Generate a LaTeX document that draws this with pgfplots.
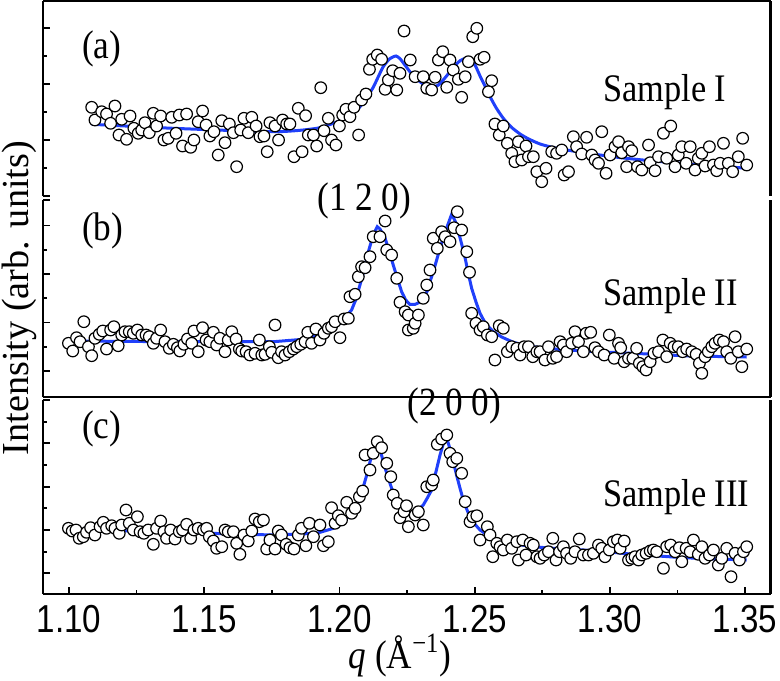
\documentclass[border=0pt]{standalone}
\usepackage{graphicx}
\usepackage{fontspec}
\setmainfont{Liberation Serif}
\newfontfamily\serifn[FakeStretch=0.88]{Liberation Serif}
\newfontfamily\sansn[FakeStretch=0.85]{Liberation Sans}
\usepackage{pgfplots}
\pgfplotsset{compat=1.18}
\definecolor{fitblue}{RGB}{32,64,250}
\pgfplotsset{
  panel/.style={
    scale only axis, width=363.75pt,
    xmin=1.0904, xmax=1.3594,
    axis y line*=box,
    axis line style={-, line width=1.1pt},
    every outer x axis line/.append style={-},
    every outer y axis line/.append style={-},
    tick style={black, line width=0.9pt},
    major tick length=3.4pt, minor tick length=2.2pt,
    tick align=inside,
    ytick pos=left, yticklabels={},
    clip=false,
  },
  pts/.style={only marks, mark=*, mark size=2.9pt,
    mark options={draw=black, fill=white, line width=0.6pt}},
  fit/.style={color=fitblue, line width=1.5pt, no marks},
}
\begin{document}
\begin{tikzpicture}
\path[use as bounding box] (0,0) rectangle (390pt,-340pt);
% ---------- panel (a)
\begin{axis}[panel, at={(21.5pt,-98pt)}, anchor=south west, height=97.5pt,
  axis x line*=top, xtick=\empty,
  ymin=0, ymax=195, ytick={0,56,112,168}, minor ytick={28,84,140}]
\addplot[pts] coordinates {(1.1084,88.7)(1.1096,76)(1.1121,84.3)(1.1139,82)(1.1154,72.7)(1.1170,90)(1.1185,61)(1.1195,76.7)(1.1213,56.7)(1.1226,80)(1.1240,67.7)(1.1256,62.7)(1.1269,66)(1.1281,73.3)(1.1297,63.3)(1.1312,82.7)(1.1324,70)(1.1339,80)(1.1351,56)(1.1367,57.7)(1.1380,78.7)(1.1396,62.7)(1.1408,81)(1.1420,50)(1.1435,82)(1.1450,48.7)(1.1462,56)(1.1478,74.3)(1.1494,85)(1.1507,71)(1.1521,60)(1.1536,64.3)(1.1552,41)(1.1565,75.3)(1.1577,53.3)(1.1593,72)(1.1608,63.3)(1.1620,29.3)(1.1635,66)(1.1647,77.7)(1.1663,63.3)(1.1676,78.7)(1.1692,70)(1.1706,59.3)(1.1721,60)(1.1733,44.3)(1.1743,73.3)(1.1762,70)(1.1775,56)(1.1790,76)(1.1805,72)(1.1817,72)(1.1832,39.3)(1.1848,87.7)(1.1862,44.3)(1.1875,80.3)(1.1885,61)(1.1904,61)(1.1916,50)(1.1931,108.3)(1.1943,65.3)(1.1959,77.7)(1.1971,56)(1.1987,51)(1.2000,70)(1.2012,81)(1.2024,86.7)(1.2039,79.3)(1.2054,88.7)(1.2071,61)(1.2082,96)(1.2098,102)(1.2111,126.7)(1.2123,136.7)(1.2140,141)(1.2156,136.7)(1.2169,106.7)(1.2181,116)(1.2197,125.3)(1.2212,106)(1.2224,122.7)(1.2239,165)(1.2262,136)(1.2280,119.3)(1.2310,119.3)(1.2323,107.7)(1.2341,106)(1.2354,118.7)(1.2366,136)(1.2382,144.3)(1.2397,108.7)(1.2409,136)(1.2421,126)(1.2440,116.7)(1.2452,98.7)(1.2465,119.3)(1.2477,134.3)(1.2493,159.3)(1.2508,167.7)(1.2520,136.7)(1.2535,138.7)(1.2551,104.3)(1.2563,115.3)(1.2575,72)(1.2591,61)(1.2606,70)(1.2621,52.7)(1.2637,42.7)(1.2649,34.3)(1.2662,54.3)(1.2674,36)(1.2690,50)(1.2699,39.3)(1.2717,39.3)(1.2730,24.3)(1.2748,14.3)(1.2764,27.7)(1.2785,44.3)(1.2803,42.7)(1.2822,46)(1.2831,21)(1.2847,24.3)(1.2865,59.3)(1.2877,49.3)(1.2896,42)(1.2914,58.7)(1.2933,41)(1.2945,36)(1.2958,32.7)(1.2970,64.3)(1.2986,22.7)(1.3001,41)(1.3019,49.3)(1.3032,54.3)(1.3044,43.3)(1.3062,29.3)(1.3069,49.3)(1.3081,45.3)(1.3102,29.3)(1.3118,26)(1.3143,51)(1.3149,33.3)(1.3167,25.3)(1.3180,39.3)(1.3198,62.7)(1.3210,37.7)(1.3225,70)(1.3241,29.3)(1.3253,41)(1.3266,49.3)(1.3282,32.7)(1.3297,49.3)(1.3315,26)(1.3327,37.7)(1.3340,42.7)(1.3352,30)(1.3368,49.3)(1.3383,31)(1.3395,25.3)(1.3408,32.7)(1.3420,52.7)(1.3438,32.7)(1.3454,24.3)(1.3475,39.3)(1.3491,57.7)(1.3506,31)};
\addplot[fit, smooth, tension=0.4] coordinates {(1.1084,71.7)(1.1386,67.7)(1.1756,64.3)(1.1916,67.7)(1.2002,75.3)(1.2050,83)(1.2076,89.3)(1.2100,98)(1.2125,108.7)(1.2145,120)(1.2162,129.3)(1.2185,137)(1.2209,140)(1.2225,137)(1.2245,130)(1.2270,121)(1.2298,114.3)(1.2320,110)(1.2340,108.7)(1.2366,111)(1.2390,118)(1.2409,124.3)(1.2430,131)(1.2446,135.3)(1.2471,138)(1.2489,136)(1.2505,129)(1.2520,120)(1.2540,109)(1.2557,99.3)(1.2580,88)(1.2606,77.7)(1.2635,69)(1.2668,62)(1.2700,57)(1.2742,52)(1.2790,48.5)(1.2840,46)(1.2900,43.5)(1.2964,41)(1.3050,38)(1.3149,35.3)(1.3250,33)(1.3334,31)(1.3420,29.5)(1.3506,27.7)};
\end{axis}
% ---------- panel (b)
\begin{axis}[panel, at={(21.5pt,-198.5pt)}, anchor=south west, height=98.5pt,
  axis x line*=none, xtick=\empty,
  ymin=0, ymax=197, ytick={0,26,74.5,123,171.5,197}, minor ytick={50,99,147}]
\addplot[pts] coordinates {(1.0998,53.7)(1.1014,46)(1.1028,59.3)(1.1041,55.3)(1.1055,75.3)(1.1072,50.3)(1.1084,41.3)(1.1096,58.7)(1.1112,62.7)(1.1125,66)(1.1139,48)(1.1154,67)(1.1166,70.3)(1.1182,51.3)(1.1195,62)(1.1207,65.3)(1.1223,65.3)(1.1238,63.7)(1.1253,67)(1.1269,62)(1.1285,62)(1.1297,60.3)(1.1312,53.7)(1.1324,58.7)(1.1339,67)(1.1355,55.3)(1.1371,48.7)(1.1386,52.7)(1.1401,49.3)(1.1410,46)(1.1425,52.7)(1.1438,58)(1.1454,53.7)(1.1462,66)(1.1478,45.3)(1.1494,69.3)(1.1507,57)(1.1521,55.3)(1.1534,64.7)(1.1546,52)(1.1558,58.7)(1.1577,45.3)(1.1589,57)(1.1602,65.3)(1.1618,58)(1.1630,48)(1.1639,46)(1.1655,45.3)(1.1669,42)(1.1688,43.7)(1.1704,57)(1.1713,42)(1.1725,42.7)(1.1741,50.3)(1.1750,44.7)(1.1762,72)(1.1774,39.3)(1.1786,45.3)(1.1799,42)(1.1815,45.3)(1.1830,48)(1.1842,50.3)(1.1857,52.7)(1.1873,55.3)(1.1883,64.7)(1.1897,53.7)(1.1913,68)(1.1928,57)(1.1943,63.7)(1.1959,68.7)(1.1971,70.3)(1.1984,75.3)(1.2002,59.3)(1.2017,78)(1.2033,78.7)(1.2039,100.3)(1.2058,102.7)(1.2070,120.3)(1.2082,130.3)(1.2095,129.3)(1.2113,140.3)(1.2125,160.3)(1.2150,160.3)(1.2169,176)(1.2175,147)(1.2193,142)(1.2212,118.7)(1.2224,94.7)(1.2243,85.3)(1.2255,67)(1.2255,82)(1.2273,68.7)(1.2280,73.7)(1.2292,82)(1.2310,98.7)(1.2323,112)(1.2335,127)(1.2347,158.7)(1.2362,148.7)(1.2378,165.3)(1.2391,160.3)(1.2409,155.3)(1.2424,169.3)(1.2436,185.3)(1.2452,167)(1.2471,145.3)(1.2481,124.7)(1.2489,83.7)(1.2505,73.7)(1.2520,67)(1.2532,70.3)(1.2547,62)(1.2563,60.3)(1.2575,37)(1.2591,71.3)(1.2606,68.7)(1.2621,45.3)(1.2637,50.3)(1.2656,48.7)(1.2668,42)(1.2683,50.3)(1.2699,50.3)(1.2715,40.3)(1.2730,45.3)(1.2742,45.3)(1.2760,37)(1.2773,50.3)(1.2789,38.7)(1.2803,40.3)(1.2816,55.3)(1.2828,52)(1.2840,45.3)(1.2859,53.7)(1.2871,65.3)(1.2884,55.3)(1.2902,45.3)(1.2912,63.7)(1.2929,64.7)(1.2945,49.3)(1.2958,45.3)(1.2979,42)(1.2998,62)(1.3016,38.7)(1.3032,53.7)(1.3040,49.3)(1.3053,35.3)(1.3069,38.7)(1.3085,38.7)(1.3099,48.7)(1.3109,33.7)(1.3122,30.3)(1.3134,27)(1.3149,35.3)(1.3163,43.7)(1.3180,45.3)(1.3196,57)(1.3210,40.3)(1.3223,53.7)(1.3237,50.3)(1.3253,50.3)(1.3269,45.3)(1.3284,48)(1.3303,45.3)(1.3319,42.7)(1.3331,33.7)(1.3340,23.7)(1.3352,40.3)(1.3364,45.3)(1.3377,50.3)(1.3389,53.7)(1.3405,57)(1.3420,55.3)(1.3432,45.3)(1.3447,38.7)(1.3463,60.3)(1.3475,45.3)(1.3488,30.3)(1.3506,48)};
\addplot[fit] coordinates {(1.1001,56)(1.1386,55.3)(1.1756,55.3)(1.1879,58)(1.1953,65.3)(1.2002,73.7)(1.2045,87)(1.2060,97)(1.2076,112)(1.2092,128)(1.2107,145.3)(1.2125,162)(1.2140,170.3)(1.2150,168)(1.2169,158.7)(1.2185,145)(1.2199,132)(1.2215,118)(1.2230,105.3)(1.2245,97)(1.2261,92.5)(1.2280,92.7)(1.2295,94.5)(1.2310,99)(1.2325,106)(1.2335,115.3)(1.2350,128)(1.2372,148.7)(1.2395,168)(1.2415,182.7)(1.2428,176)(1.2440,165.3)(1.2452,153)(1.2465,138.7)(1.2477,123)(1.2489,108.7)(1.2505,95)(1.2520,83.7)(1.2540,73.5)(1.2569,65.3)(1.2600,60)(1.2643,54.7)(1.2690,51.5)(1.2742,49.3)(1.2820,47.5)(1.2902,46)(1.3000,44.7)(1.3087,43.7)(1.3180,42.5)(1.3272,41.3)(1.3400,40.5)(1.3506,40)};
\end{axis}
% ---------- panel (c)
\begin{axis}[panel, at={(21.5pt,-297pt)}, anchor=south west, height=97pt,
  axis x line*=bottom,
  ymin=0, ymax=194, ytick={21,64,107,151,194}, minor ytick={42,86,129,172},
  xtick={1.10,1.15,1.20,1.25,1.30,1.35}, minor xtick={1.125,1.175,1.225,1.275,1.325},
  xticklabels={1.10,1.15,1.20,1.25,1.30,1.35}, xtick pos=bottom,
  xticklabel style={font=\fontsize{19.5}{20}\sansn, inner sep=0pt, yshift=-5.5pt}]
\addplot[pts] coordinates {(1.0998,65.7)(1.1012,63)(1.1026,64)(1.1038,55.7)(1.1053,57.3)(1.1065,61.7)(1.1080,66.3)(1.1096,59)(1.1115,67.3)(1.1127,71.7)(1.1139,65.7)(1.1158,68.3)(1.1170,65.7)(1.1186,60.7)(1.1195,69)(1.1211,84)(1.1223,70.7)(1.1238,64)(1.1253,77.3)(1.1263,62.3)(1.1277,60.7)(1.1293,64)(1.1312,49.7)(1.1324,65.7)(1.1339,73)(1.1351,62.3)(1.1361,55.7)(1.1376,64)(1.1392,55)(1.1408,62.3)(1.1420,64)(1.1435,69.7)(1.1450,55.7)(1.1462,64)(1.1478,65.7)(1.1497,64)(1.1509,65.7)(1.1519,57.3)(1.1534,53)(1.1546,45.7)(1.1565,47.3)(1.1577,64)(1.1589,62.3)(1.1608,62.3)(1.1620,50.7)(1.1632,39.7)(1.1647,59)(1.1663,53)(1.1676,63)(1.1688,75)(1.1704,72.3)(1.1719,74)(1.1731,45)(1.1743,54)(1.1762,45)(1.1774,63)(1.1786,59)(1.1803,49.7)(1.1817,46.3)(1.1832,45)(1.1848,59)(1.1860,65.7)(1.1876,48.3)(1.1889,70.7)(1.1904,57.3)(1.1928,69)(1.1941,48.3)(1.1959,52.3)(1.1971,86.3)(1.1984,70.7)(1.1996,78.3)(1.2008,74)(1.2027,91.7)(1.2045,80.7)(1.2058,85.7)(1.2074,97.3)(1.2086,103)(1.2095,139)(1.2113,124)(1.2125,140.7)(1.2140,152.3)(1.2156,146.3)(1.2175,130.7)(1.2190,117.3)(1.2199,99)(1.2214,90.7)(1.2224,76.3)(1.2239,82.3)(1.2248,88.3)(1.2255,67.3)(1.2280,79)(1.2292,82.3)(1.2310,69)(1.2323,107.3)(1.2341,109)(1.2347,114)(1.2362,149.7)(1.2378,155)(1.2397,159)(1.2409,140.7)(1.2419,132.3)(1.2434,135.7)(1.2452,120.7)(1.2465,92.3)(1.2483,72.3)(1.2493,77.3)(1.2508,78.3)(1.2520,54)(1.2547,67.3)(1.2557,59)(1.2567,37.3)(1.2582,50.7)(1.2594,47.3)(1.2606,44)(1.2621,54)(1.2637,45.7)(1.2656,52.3)(1.2662,34)(1.2678,54)(1.2690,39)(1.2705,50.7)(1.2717,49)(1.2730,37.3)(1.2742,35.7)(1.2757,39)(1.2773,42.3)(1.2789,55.7)(1.2801,34)(1.2814,42.3)(1.2828,47.3)(1.2840,40.7)(1.2855,35.7)(1.2871,42.3)(1.2887,55)(1.2902,39)(1.2921,39)(1.2939,40.7)(1.2958,49)(1.2970,45.7)(1.2982,37.3)(1.2998,44)(1.3013,52.3)(1.3028,54)(1.3038,45.7)(1.3053,53)(1.3069,34)(1.3081,35.7)(1.3093,37.3)(1.3106,34)(1.3118,39)(1.3134,40.7)(1.3149,43)(1.3161,44)(1.3173,42.3)(1.3198,25.7)(1.3210,47.3)(1.3225,49)(1.3241,42.3)(1.3257,46.3)(1.3266,32.3)(1.3282,45.7)(1.3297,42.3)(1.3309,54)(1.3327,39.7)(1.3340,47.3)(1.3352,35.7)(1.3368,39)(1.3383,44)(1.3401,29)(1.3414,35.7)(1.3432,45.7)(1.3448,17.3)(1.3463,40.7)(1.3479,34)(1.3494,42.3)(1.3506,47.3)};
\addplot[fit] coordinates {(1.1001,65)(1.1386,61.7)(1.1756,59)(1.1916,60.7)(1.1978,65.7)(1.2027,75.7)(1.2050,83)(1.2070,92.3)(1.2085,104)(1.2101,119)(1.2113,132)(1.2125,144)(1.2140,150.7)(1.2150,145)(1.2162,132.3)(1.2178,118)(1.2193,105.7)(1.2208,96)(1.2224,89)(1.2245,83.5)(1.2261,81.5)(1.2286,83)(1.2310,89)(1.2325,96)(1.2341,104)(1.2355,120)(1.2372,139)(1.2385,151)(1.2394,158.3)(1.2408,146)(1.2421,132.3)(1.2434,118)(1.2446,105.7)(1.2460,92)(1.2477,80.7)(1.2497,71)(1.2520,64)(1.2555,57.5)(1.2594,53)(1.2650,50)(1.2717,47.3)(1.2800,45.5)(1.2902,44)(1.3000,42)(1.3087,39.7)(1.3180,38)(1.3272,36.3)(1.3400,35)(1.3506,34)};
\end{axis}
% ---------- text
\begin{scope}[every node/.style={inner sep=0pt, font=\fontsize{20}{22}\serifn}]
\node[anchor=base west] at (40.8pt,-29.2pt) {(a)};
\node[anchor=base west] at (40.8pt,-120pt) {(b)};
\node[anchor=base west] at (40.8pt,-219.2pt) {(c)};
\node[anchor=base west] at (158.5pt,-105pt) {(1 2 0)};
\node[anchor=base west] at (203.5pt,-207.5pt) {(2 0 0)};
\node[anchor=base west, font=\fontsize{19.5}{22}\serifn] at (301.5pt,-50.8pt) {Sample I};
\node[anchor=base west, font=\fontsize{19.5}{22}\serifn] at (301.5pt,-152.5pt) {Sample II};
\node[anchor=base west, font=\fontsize{19.5}{22}\serifn] at (301.5pt,-253.3pt) {Sample III};
\node[anchor=base] at (200pt,-334pt) {\textit{q} (Å\textsuperscript{−1})};
\node[rotate=90, anchor=north, font=\fontsize{19.3}{22}\rmfamily] at (0.6pt,-149pt) {\resizebox{157pt}{!}{Intensity (arb. units)}};
\end{scope}
\end{tikzpicture}
\end{document}
